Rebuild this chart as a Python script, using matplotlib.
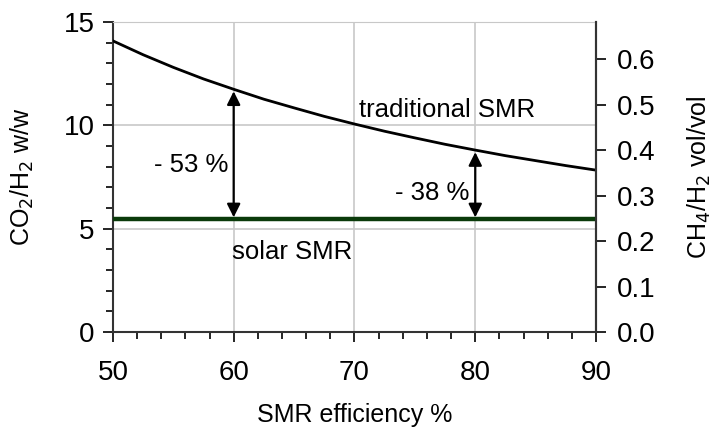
import matplotlib
matplotlib.use('Agg')
import matplotlib.pyplot as plt
from matplotlib.ticker import MultipleLocator, FormatStrFormatter

plt.rcParams['font.family'] = ['Liberation Sans', 'DejaVu Sans']

# SMR efficiency % vs CO2/H2 w/w
efficiency = [50, 52.5, 55, 57.5, 60, 62.5, 65, 67.5, 70, 72.5, 75, 77.5, 80, 82.5, 85, 87.5, 90]
traditional = [14.08, 13.41, 12.8, 12.24, 11.74, 11.26, 10.84, 10.43, 10.06,
               9.71, 9.39, 9.08, 8.80, 8.53, 8.29, 8.05, 7.83]
solar = [5.45] * len(efficiency)

arrow_x = [60, 80]
arrow_top = [11.74, 8.80]
arrow_labels = ['- 53 %', '- 38 %']

fig = plt.figure(figsize=(7.19, 4.28), dpi=100)
ax = fig.add_subplot(111)
fig.subplots_adjust(left=0.157, right=0.829, top=0.949, bottom=0.224)

ax.plot(efficiency, traditional, color='black', lw=2, zorder=3)
ax.plot(efficiency, solar, color='#0a3a0a', lw=3.2, zorder=3)

for x, top in zip(arrow_x, arrow_top):
    ax.annotate('', xy=(x, top - 0.1), xytext=(x, solar[0] + 0.1),
                arrowprops=dict(arrowstyle='<|-|>', color='black', lw=1.6,
                                mutation_scale=20, shrinkA=0, shrinkB=0), zorder=4)

ax.text(59.6, 8.08, arrow_labels[0], ha='right', va='center', fontsize=18.5)
ax.text(79.5, 6.72, arrow_labels[1], ha='right', va='center', fontsize=18.5)
ax.text(70.4, 10.15, 'traditional SMR', ha='left', va='bottom', fontsize=18.5)
ax.text(59.9, 3.85, 'solar SMR', ha='left', va='center', fontsize=18.5)

ax.set_xlim(50, 90)
ax.set_ylim(0, 15)
ax.xaxis.set_major_locator(MultipleLocator(10))
ax.xaxis.set_minor_locator(MultipleLocator(2))
ax.yaxis.set_major_locator(MultipleLocator(5))
ax.yaxis.set_minor_locator(MultipleLocator(1))
ax.grid(True, which='major', color='#c8c8c8', lw=1.2, zorder=0)
ax.tick_params(which='both', direction='out', color='black', labelsize=20)
ax.tick_params(which='major', length=7, width=1.2, pad=6)
ax.tick_params(which='minor', length=5, width=1.2)
ax.tick_params(axis='x', which='major', pad=13)
for s in ['left', 'bottom', 'right']:
    ax.spines[s].set_color('#333333')
    ax.spines[s].set_linewidth(1.5)
ax.spines['top'].set_color('#c8c8c8')

ax.set_xlabel('SMR efficiency %', fontsize=18, labelpad=12)
ax.set_ylabel('CO$_2$/H$_2$ w/w', fontsize=18, labelpad=20)

ax2 = ax.twinx()
ax2.set_ylim(0, 15 / 22)
ax2.yaxis.set_major_locator(MultipleLocator(0.1))
ax2.yaxis.set_major_formatter(FormatStrFormatter('%.1f'))
ax2.tick_params(direction='out', length=7, width=1.2, labelsize=20, pad=8)
ax2.spines['right'].set_color('#333333')
ax2.spines['right'].set_linewidth(1.5)
ax2.spines['top'].set_visible(False)
ax2.spines['left'].set_visible(False)
ax2.spines['bottom'].set_visible(False)
ax2.set_ylabel('CH$_4$/H$_2$ vol/vol', fontsize=18, labelpad=22)

fig.savefig('out.png', dpi=100)
